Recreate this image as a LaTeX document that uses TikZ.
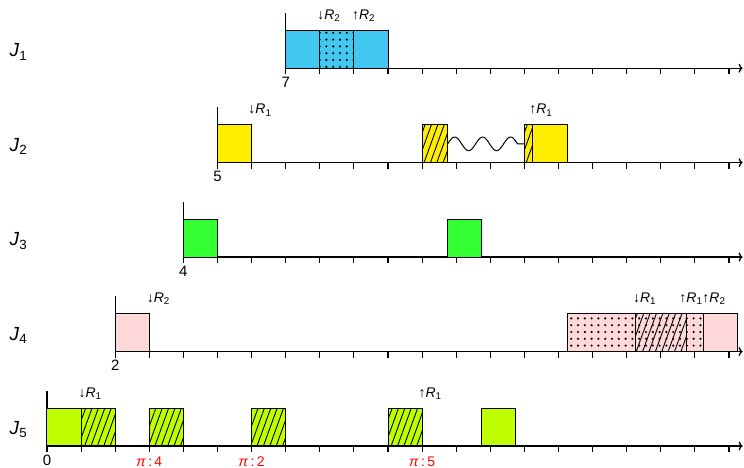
\documentclass[tikz,border=0pt]{standalone}
\usepackage{fontspec}
\setmainfont{Liberation Sans}
\usepackage{xcolor}
\usepackage{tikz}
\usetikzlibrary{arrows.meta, patterns.meta}

\definecolor{jobblue}{RGB}{66,199,240}
\definecolor{jobyellow}{RGB}{255,238,0}
\definecolor{jobgreen}{RGB}{51,255,51}
\definecolor{jobpink}{RGB}{255,217,217}
\definecolor{joblime}{RGB}{191,255,0}

\tikzdeclarepattern{
  name=bigdots,
  type=uncolored,
  bounding box={(-3.4pt,-3.4pt) and (3.4pt,3.4pt)},
  tile size={(6.8pt,6.8pt)},
  code={\fill (0pt,0pt) circle (1.2pt);}
}

\begin{document}
\begin{tikzpicture}[
    x=34.1pt, y=34.1pt,
    axis/.style={line width=1.3pt, -{To[length=4pt, width=9pt]}},
    ticmark/.style={line width=1.1pt},
    jobbox/.style={draw, line width=1pt, fill=#1},
    hatched/.style={draw, line width=1pt, preaction={fill=#1},
                    pattern={Lines[angle=70, distance=6pt, line width=0.9pt]}},
    dotgrid/.style={draw, line width=1pt, preaction={fill=#1}, pattern=bigdots},
    dothatch/.style={draw, line width=1pt, preaction={fill=#1}, pattern=bigdots,
                     postaction={pattern={Lines[angle=70, distance=6pt, line width=0.9pt]}}},
    lock/.style={anchor=base west, inner sep=0pt, font=\fontsize{14}{16}\selectfont},
    rel/.style={anchor=north, inner sep=0pt, font=\fontsize{15}{17}\selectfont},
    prio/.style={anchor=north, inner sep=0pt, text=red, font=\fontsize{14}{16}\selectfont},
    jlabel/.style={anchor=base west, inner sep=0pt, font=\fontsize{19}{21}\selectfont}
]
\useasboundingbox (-47pt,-22pt) rectangle (697pt,446pt);

% time lines
\foreach \r/\y/\j in {7/11.08/1, 5/8.31/2, 4/5.54/3, 2/2.77/4, 0/0/5} {
  \node[jlabel] (j\j) at (-1.1,\y+0.33) {\textit{J}\textsubscript{\j}};
  \draw[axis] (\r,\y) -- (20.4,\y);
  \draw[ticmark] (\r,\y-0.18) -- (\r,\y+1.62);
  \foreach \t in {\r,...,20}
    \draw[ticmark] (\t,\y) -- (\t,\y-0.18);
  \node[rel] (rel\j) at (\r,\y-0.25) {\r};
}

% J1
\draw[jobbox=jobblue] (7,11.08) rectangle (8,12.19);
\draw[dotgrid=jobblue] (8,11.08) rectangle (9,12.19);
\draw[jobbox=jobblue] (9,11.08) rectangle (10,12.19);
\node[lock] (l1a) at (7.92,12.51) {↓\textit{R}\textsubscript{2}};
\node[lock] (l1b) at (8.94,12.51) {↑\textit{R}\textsubscript{2}};

% J2
\draw[jobbox=jobyellow] (5,8.31) rectangle (6,9.42);
\draw[hatched=jobyellow] (11,8.31) rectangle (11.75,9.42);
\draw[hatched=jobyellow] (14,8.31) rectangle (14.25,9.42);
\draw[jobbox=jobyellow] (14.25,8.31) rectangle (15.25,9.42);
\draw[line width=1pt] plot[smooth, samples=70, domain=11.75:13.8]
  (\x,{8.86+0.2*sin(360*(\x-11.75)/0.82)}) -- (14,8.86);
\node[lock] (l2a) at (5.9,9.74) {↓\textit{R}\textsubscript{1}};
\node[lock] (l2b) at (14.14,9.74) {↑\textit{R}\textsubscript{1}};

% J3
\draw[jobbox=jobgreen] (4,5.54) rectangle (5,6.65);
\draw[jobbox=jobgreen] (11.75,5.54) rectangle (12.75,6.65);

% J4
\draw[jobbox=jobpink] (2,2.77) rectangle (3,3.88);
\draw[dotgrid=jobpink] (15.25,2.77) rectangle (17.25,3.88);
\draw[dothatch=jobpink] (17.25,2.77) rectangle (18.75,3.88);
\draw[dotgrid=jobpink] (18.75,2.77) rectangle (19.25,3.88);
\draw[jobbox=jobpink] (19.25,2.77) rectangle (20.25,3.88);
\node[lock] (l4a) at (2.92,4.2) {↓\textit{R}\textsubscript{2}};
\node[lock] (l4b) at (17.18,4.2) {↓\textit{R}\textsubscript{1}};
\node[lock] (l4c) at (18.54,4.2) {↑\textit{R}\textsubscript{1}↑\textit{R}\textsubscript{2}};

% J5
\draw[jobbox=joblime] (0,0) rectangle (1,1.11);
\draw[hatched=joblime] (1,0) rectangle (2,1.11);
\draw[hatched=joblime] (3,0) rectangle (4,1.11);
\draw[hatched=joblime] (6,0) rectangle (7,1.11);
\draw[hatched=joblime] (10,0) rectangle (11,1.11);
\draw[jobbox=joblime] (12.75,0) rectangle (13.75,1.11);
\node[lock] (l5a) at (0.92,1.43) {↓\textit{R}\textsubscript{1}};
\node[lock] (l5b) at (10.89,1.43) {↑\textit{R}\textsubscript{1}};
\node[prio] (p4) at (3,-0.3) {\textit{π}\,:\,4};
\node[prio] (p2) at (6,-0.3) {\textit{π}\,:\,2};
\node[prio] (p5) at (11,-0.3) {\textit{π}\,:\,5};
\end{tikzpicture}
\end{document}
